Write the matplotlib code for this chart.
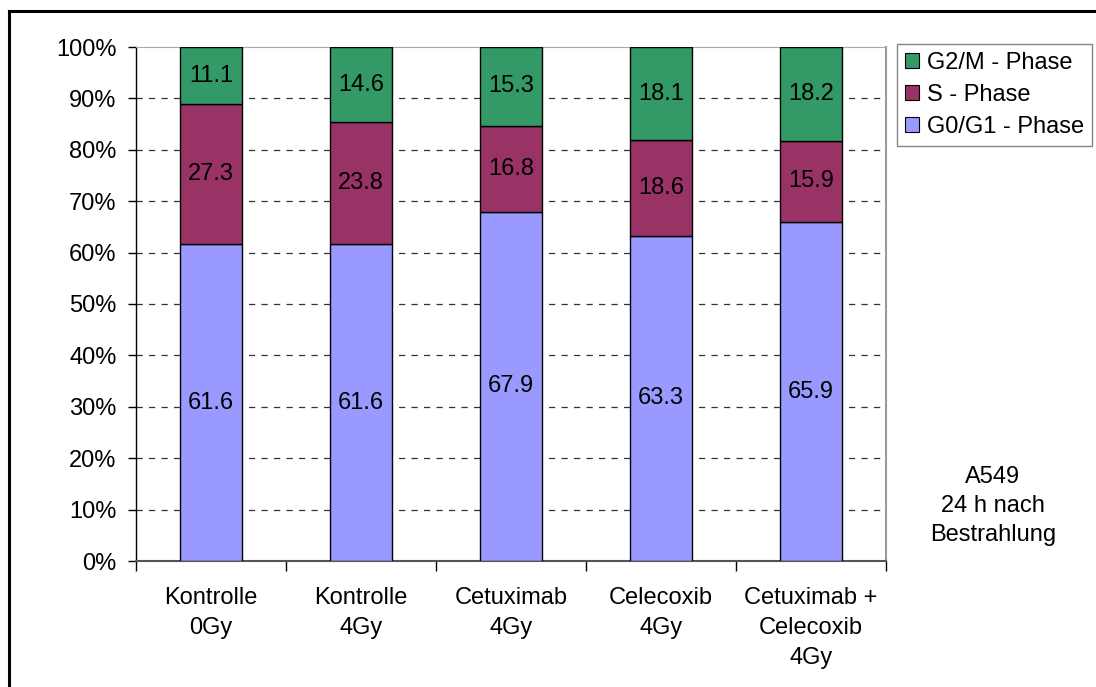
import matplotlib
matplotlib.use("Agg")
import matplotlib.pyplot as plt
from matplotlib.lines import Line2D
from matplotlib.patches import Patch
import numpy as np

plt.rcParams['font.family'] = ['Liberation Sans', 'DejaVu Sans']

categories = ["Kontrolle\n0Gy", "Kontrolle\n4Gy", "Cetuximab\n4Gy",
              "Celecoxib\n4Gy", "Cetuximab +\nCelecoxib\n4Gy"]
g0g1 = [61.6, 61.6, 67.9, 63.3, 65.9]
s_phase = [27.3, 23.8, 16.8, 18.6, 15.9]
g2m = [11.1, 14.6, 15.3, 18.1, 18.2]
series_names = ["G0/G1 - Phase", "S - Phase", "G2/M - Phase"]
series_colors = ["#9999FF", "#993366", "#339966"]
y_ticks = [0, 10, 20, 30, 40, 50, 60, 70, 80, 90, 100]

FS = 17

fig = plt.figure(figsize=(10.96, 6.87), dpi=100)
ax = fig.add_axes([136 / 1096, 1 - 561 / 687, 750 / 1096, 514 / 687])

x = np.arange(len(categories))
bottom = np.zeros(len(categories))
for vals, col in zip([g0g1, s_phase, g2m], series_colors):
    vals = np.array(vals)
    ax.bar(x, vals, width=0.41, bottom=bottom, color=col,
           edgecolor="black", linewidth=1.0, zorder=3)
    for xi, b, v in zip(x, bottom, vals):
        ax.text(xi, b + v / 2, f"{v:.1f}", ha="center", va="center",
                fontsize=FS, color="black", zorder=4)
    bottom += vals

ax.set_xlim(-0.5, len(categories) - 0.5)
ax.set_ylim(0, 100)

ax.set_yticks(y_ticks)
ax.set_yticklabels([f"{t}%" for t in y_ticks])
for t in y_ticks[1:-1]:
    ax.axhline(t, color="#333333", linestyle=(0, (5, 5)), linewidth=0.9, zorder=1)

ax.set_xticks(x)
ax.set_xticklabels(categories, linespacing=1.45)
ax.set_xticks(np.arange(len(categories) + 1) - 0.5, minor=True)
ax.tick_params(axis="x", which="major", length=0, pad=19, labelsize=FS)
ax.tick_params(axis="x", which="minor", length=7, width=1.0, direction="out")
ax.tick_params(axis="y", length=6, width=1.0, pad=8, labelsize=FS)

ax.spines["left"].set_color("black")
ax.spines["left"].set_linewidth(1.0)
ax.spines["bottom"].set_color("#555555")
ax.spines["bottom"].set_linewidth(1.5)
ax.spines["top"].set_color("#aaaaaa")
ax.spines["right"].set_color("#999999")
ax.spines["right"].set_linewidth(1.5)

handles = [Patch(facecolor=c, edgecolor="black", linewidth=0.8)
           for c in series_colors[::-1]]
leg = fig.legend(handles, series_names[::-1], loc="upper left",
                 bbox_to_anchor=(897 / 1096, 1 - 44 / 687),
                 fontsize=FS, frameon=True, fancybox=False,
                 borderpad=0.35, labelspacing=0.42, handlelength=0.6,
                 handleheight=0.6, handletextpad=0.3, borderaxespad=0)
leg.get_frame().set_edgecolor("#666666")
leg.get_frame().set_linewidth(1.0)

fig.text(993 / 1096, 1 - 506 / 687, "A549\n24 h nach\nBestrahlung",
         ha="center", va="center", fontsize=FS, linespacing=1.4)

# outer frame around the chart
fig.add_artist(Line2D([8.5 / 1096, 8.5 / 1096], [0, 1 - 10.5 / 687],
                      color="black", linewidth=2.2, transform=fig.transFigure))
fig.add_artist(Line2D([8.5 / 1096, 1], [1 - 10.5 / 687, 1 - 10.5 / 687],
                      color="black", linewidth=2.2, transform=fig.transFigure))

fig.savefig("out.png", dpi=100)
